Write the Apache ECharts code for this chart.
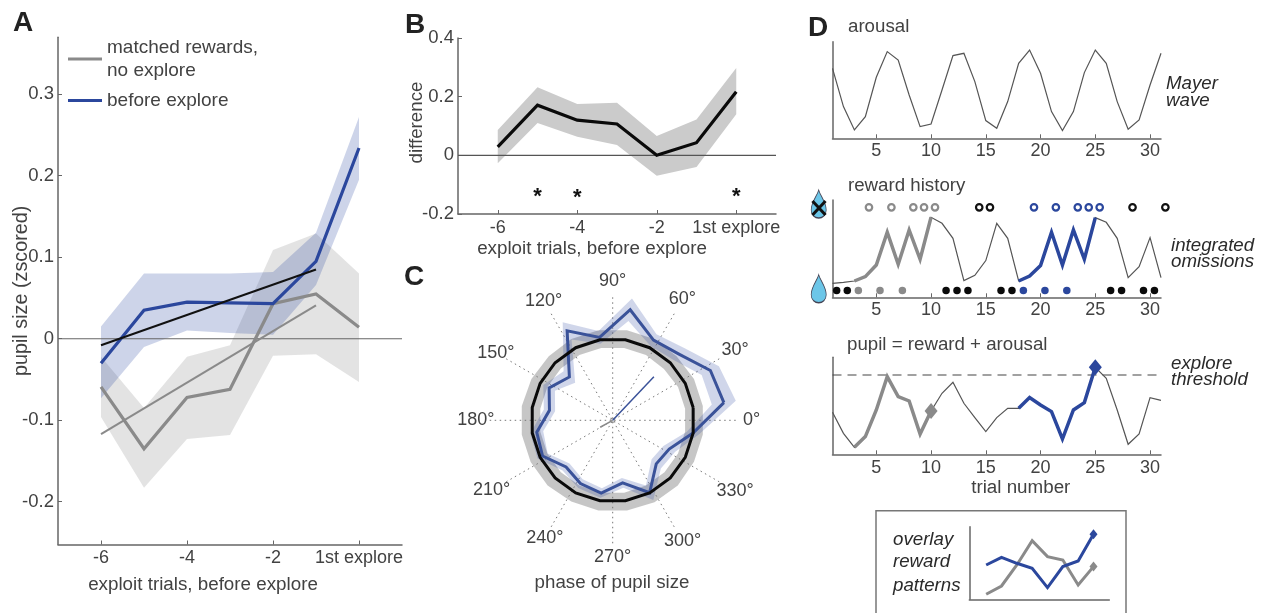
<!DOCTYPE html>
<html><head><meta charset="utf-8">
<style>html,body{margin:0;padding:0;background:#fff}#c{width:1261px;height:613px}</style>
<script src="https://cdn.jsdelivr.net/npm/echarts@6/dist/echarts.min.js"></script>
</head><body><div id="c"></div>
<script>
// ---------- Panel A ----------
const aX = [-6,-5,-4,-3,-2,-1,0];
const aTickValues = [-6,-4,-2,0];
const aTickLabels = ['-6','-4','-2','1st explore'];
const aYTicks = [-0.2,-0.1,0,0.1,0.2,0.3];
const aBlue = [-0.03,0.035,0.045,0.044,0.043,0.095,0.234];
const aBlueHi = [0.015,0.08,0.08,0.08,0.082,0.13,0.272];
const aBlueLo = [-0.073,-0.01,0.01,0.007,0.005,0.066,0.195];
const aGray = [-0.059,-0.135,-0.072,-0.062,0.043,0.055,0.014];
const aGrayHi = [-0.022,-0.085,-0.022,-0.008,0.109,0.129,0.08];
const aGrayLo = [-0.096,-0.183,-0.123,-0.118,-0.021,-0.019,-0.053];
const aFitBlack = [[-6,-0.008],[-1,0.085]];
const aFitGray = [[-6,-0.117],[-1,0.041]];
// ---------- Panel B ----------
const bDiff = [0.029,0.171,0.12,0.107,0,0.043,0.217];
const bHi = [0.086,0.232,0.175,0.179,0.066,0.122,0.298];
const bLo = [-0.027,0.11,0.063,0.035,-0.07,-0.04,0.14];
const bYTicks = [-0.2,0,0.2,0.4];
const bStars = [[-5,-0.135],[-4,-0.14],[0,-0.135]];
// ---------- Panel C ----------
const cAngles = [9,27,45,63,81,99,117,135,153,171,189,207,225,243,261,279,297,315,333,351];
const cBlue = [.0691,.0673,.0575,.0552,.0687,.0515,.0616,.0376,.0438,.0393,.0472,.0483,.0405,.0436,.0452,.0389,.0499,.0378,.0389,.0499];
const cBlueHi = [.0765,.0732,.0625,.0592,.0757,.0555,.0676,.0426,.0478,.0428,.0512,.0518,.0435,.0466,.0482,.0419,.0549,.0418,.0429,.0539];
const cBlueLo = [.0616,.0613,.0525,.0512,.0617,.0475,.0556,.0326,.0398,.0358,.0432,.0448,.0375,.0406,.0422,.0359,.0449,.0338,.0349,.0459];
const cUniform = [.05,.05,.05,.05,.05,.05,.05,.05,.05,.05,.05,.05,.05,.05,.05,.05,.05,.05,.05,.05];
const cUniHi = [.056,.056,.0555,.056,.056,.056,.056,.0555,.056,.0565,.0565,.0565,.0565,.056,.056,.056,.0565,.0565,.056,.056];
const cUniLo = [.045,.045,.0445,.045,.045,.045,.045,.045,.045,.045,.045,.045,.045,.045,.045,.045,.045,.045,.045,.045];
const cVecBlue = [[0,0],[.0368,46.6]];
const cVecGray = [[0,0],[.0088,209]];
const cTickAngles = [0,30,60,90,120,150,180,210,240,270,300,330];
const cTickRadius = [.0853,.0868,.0856,.0853,.0847,.0828,.084,.0859,.0834,.084,.0859,.0868];
// ---------- Panel D ----------
const dTrials = [1,2,3,4,5,6,7,8,9,10,11,12,13,14,15,16,17,18,19,20,21,22,23,24,25,26,27,28,29,30,31];
const dTicks = [5,10,15,20,25,30];
const dArousal = [70,31.7,8.3,21.7,61,86.7,78.3,43.3,11.7,14.3,48.3,82.7,85,56.7,17.7,10,36.7,75,88.3,65,26.7,7.7,26.7,65.7,88.3,75,36.7,9,18.3,53.3,85];
const dReward = [14,15,16.3,20.7,32.3,65,33,67.3,38,80,74,59,16.7,22,36.7,74,59,16.3,21.3,31.7,65,32.3,67.3,38,79.7,75,59,19.7,30.7,59.7,19.7];
const dPupil = [42,21,7,17.7,44.3,77.7,57.7,53.3,20.3,43.3,61,72,51,36.7,22.7,36.7,46,46,56.7,49.3,42.7,15.3,44.3,51.7,87,76,44.3,10,20.3,56.7,54];
const dThreshold = 79.3;
const omitRow = 90, rewardRow = 6.7;
const omitGrayX = [4.33,6.38,8.38,9.36,10.36];
const omitBlackX = [14.4,15.38,28.4,31.4];
const omitBlueX = [19.4,21.4,23.4,24.4,25.4];
const rewardBlackX = [1.38,2.35,11.37,12.37,13.37,16.39,17.39,26.4,27.4,29.4,30.4];
const rewardGrayX = [3.36,5.34,7.38];
const rewardBlueX = [18.43,20.4,22.4];
const grayFrom = 3, grayTo = 10, blueFrom = 18, blueTo = 25;
const dropIcons = [[-0.26,93.3],[-0.26,8.6]];
// ---------- Inset ----------
const inX = [0,1,2,3,4,5,6,7];
const inGray = [5,13.3,34.3,58.7,42.7,39.3,14.3,32.7];
const inBlue = [34.3,42,36,31,11.7,32.7,38.3,65];

const FONT = '"Liberation Sans", Arial, sans-serif';
const TXT = '#424242', AX = '#666', GRAY = '#8a8a8a', BLUE = '#2b479d', THIN = '#555';
const zip = (a,b) => a.map((v,i)=>[v,b[i]]);
const axisLine = {lineStyle:{color:AX,width:1.5}};
const tickIn = {show:true,inside:true,length:4,lineStyle:{color:AX,width:1}};

function xAx(gridIndex,min,max,values,labels,margin,extra){
  return Object.assign({type:'value',gridIndex,min,max,splitLine:{show:false},axisLine:Object.assign({onZero:false},axisLine),
    nameMoveOverlap:false,
    axisTick:Object.assign({},tickIn,{customValues:values}),
    axisLabel:{customValues:values,margin,color:TXT,fontFamily:FONT,fontSize:18,showMinLabel:true,showMaxLabel:true,hideOverlap:false,
      formatter:v=>labels?labels[values.indexOf(v)]:String(v)}},extra||{});
}
function yAx(gridIndex,min,max,values,extra){
  return Object.assign({type:'value',gridIndex,min,max,splitLine:{show:false},axisLine:Object.assign({onZero:false},axisLine),
    nameMoveOverlap:false,
    axisTick:values?Object.assign({},tickIn,{customValues:values}):{show:false},
    axisLabel:values?{customValues:values,margin:4,color:TXT,fontFamily:FONT,fontSize:18.5,formatter:v=>String(v),hideOverlap:false}:{show:false}},extra||{});
}
function line(name,data,idx,color,width,extra){
  return Object.assign({type:'line',name,data,xAxisIndex:idx,yAxisIndex:idx,showSymbol:false,symbol:'none',silent:true,
    itemStyle:{color},lineStyle:{color,width,join:'miter'}},extra||{});
}
function band(name,xs,lo,hi,idx,fill){
  return {type:'custom',name,xAxisIndex:idx,yAxisIndex:idx,silent:true,clip:false,
    data:xs.map((x,i)=>[x,lo[i],hi[i]]),encode:{x:0,y:[1,2]},
    renderItem(p,api){
      if(p.dataIndex!==0) return null;
      const pts=[];
      xs.forEach((x,i)=>pts.push(api.coord([x,hi[i]])));
      for(let i=xs.length-1;i>=0;i--) pts.push(api.coord([xs[i],lo[i]]));
      return {type:'polygon',shape:{points:pts},style:{fill}};
    }};
}
function ring(name,angles,lo,hi,fill){
  return {type:'custom',name,coordinateSystem:'polar',polarIndex:0,silent:true,clip:false,
    data:angles.map((a,i)=>[hi[i],a]),
    renderItem(p,api){
      if(p.dataIndex!==0) return null;
      const pts=[];
      for(let i=0;i<=angles.length;i++){const k=i%angles.length;pts.push(api.coord([hi[k],angles[k]]));}
      for(let i=angles.length;i>=0;i--){const k=i%angles.length;pts.push(api.coord([lo[k],angles[k]]));}
      return {type:'polygon',shape:{points:pts},style:{fill}};
    }};
}
const closed = (r,a) => r.map((v,i)=>[v,a[i]]).concat([[r[0],a[0]]]);
function polarLine(name,data,color,width){
  return {type:'line',name,coordinateSystem:'polar',polarIndex:0,data,symbol:'none',showSymbol:false,silent:true,clip:false,
    itemStyle:{color},lineStyle:{color,width,join:'miter'}};
}
function dots(name,xs,y,idx,color,open){
  return {type:'scatter',name,xAxisIndex:idx,yAxisIndex:idx,clip:false,silent:true,symbol:'circle',symbolSize:open?6.5:7.5,
    data:xs.map(x=>[x,y]),itemStyle:open?{color:'#fff',borderColor:color,borderWidth:2.2,opacity:1}:{color,opacity:1}};
}
function diamond(name,pt,idx,color,size){
  return {type:'scatter',name,xAxisIndex:idx,yAxisIndex:idx,clip:false,silent:true,symbol:'diamond',symbolSize:size,z:5,data:[pt],itemStyle:{color,opacity:1}};
}
const seg = (vals,a,b) => dTrials.map((t,i)=>[t,vals[i]]).slice(a-1,b);
function txt(text,x,y,o){
  return {type:'text',silent:true,x,y,style:Object.assign({text,fontFamily:FONT,fontSize:18.7,fill:TXT,align:'left',verticalAlign:'middle'},o||{})};
}
const letter = (s,x,y)=>txt(s,x,y,{fontSize:28,fontWeight:'bold',fill:'#222',align:'center'});
const it = {fontStyle:'italic',fill:'#2a2a2a'};
const DROP='path://M0,-14 C-1.5,-8 -7.5,-2 -7.5,6 C-7.5,11 -4,14 0,14 C4,14 7.5,11 7.5,6 C7.5,-2 1.5,-8 0,-14 Z';
const nameStyle = (padding)=>({color:TXT,fontFamily:FONT,fontSize:18.8,padding});

const option = {
  animation:false,backgroundColor:'#fff',
  textStyle:{fontFamily:FONT},
  grid:[
    {left:58,top:37.2,width:344,height:507.3,outerBoundsMode:'none'},
    {left:458,top:38,width:318,height:176,outerBoundsMode:'none'},
    {left:832.5,top:41.7,width:328.5,height:96.6,outerBoundsMode:'none'},
    {left:832.5,top:200,width:328.5,height:97.3,outerBoundsMode:'none'},
    {left:832.5,top:357.3,width:328.5,height:97,outerBoundsMode:'none'},
    {left:969.3,top:526.7,width:140,height:72.6,outerBoundsMode:'none'}
  ],
  xAxis:[
    xAx(0,-7,1,aTickValues,aTickLabels,5,{name:'exploit trials, before explore',nameLocation:'middle',nameGap:30.5,nameTextStyle:nameStyle([0,54,0,0])}),
    xAx(1,-7,1,aTickValues,aTickLabels,5,{name:'exploit trials, before explore',nameLocation:'middle',nameGap:25,nameTextStyle:nameStyle([0,50,0,0])}),
    xAx(2,1,31,dTicks,null,3.5),
    xAx(3,1,31,dTicks,null,3.5),
    xAx(4,1,31,dTicks,null,5,{name:'trial number',nameLocation:'middle',nameGap:24,nameTextStyle:nameStyle([0,0,0,48])}),
    {type:'value',gridIndex:5,min:-1.1,max:8.03,axisLine:Object.assign({onZero:false},axisLine),axisTick:{show:false},axisLabel:{show:false},splitLine:{show:false}}
  ],
  yAxis:[
    yAx(0,-0.2525,0.37,aYTicks,{name:'pupil size (zscored)',nameLocation:'middle',nameGap:26,nameTextStyle:Object.assign(nameStyle([0,0,0,0]),{fontSize:19.8})}),
    yAx(1,-0.2,0.4,bYTicks,{name:'difference',nameLocation:'middle',nameGap:32,nameTextStyle:nameStyle([0,0,0,7])}),
    yAx(2,0,96.6,null),
    yAx(3,0,97.3,null),
    yAx(4,0,97,null),
    yAx(5,0,72.6,null)
  ],
  polar:{center:[612.7,420.3],radius:123},
  radiusAxis:{min:0,max:0.0755,axisLine:{show:false},axisTick:{show:false},axisLabel:{show:false},splitLine:{show:false}},
  angleAxis:{type:'value',min:0,max:360,interval:30,startAngle:0,clockwise:false,axisLine:{show:false},axisTick:{show:false},
    splitLine:{show:true,lineStyle:{type:[1.5,3.5],color:'#777',width:1}},
    axisLabel:{show:false}},
  legend:{left:63,top:31,orient:'vertical',itemWidth:34,itemHeight:3,itemGap:7,selectedMode:false,
    textStyle:{color:TXT,fontFamily:FONT,fontSize:19,lineHeight:23},
    data:[{name:'matched rewards,\nno explore',icon:'rect'},{name:'before explore',icon:'rect'}]},
  series:[
    band('grayBandA',aX,aGrayLo,aGrayHi,0,'rgba(100,100,100,0.18)'),
    band('blueBandA',aX,aBlueLo,aBlueHi,0,'rgba(40,70,160,0.23)'),
    line('zeroA',[[-7,0],[1,0]],0,'#666',1.2),
    line('matched rewards,\nno explore',zip(aX,aGray),0,GRAY,3.2),
    line('before explore',zip(aX,aBlue),0,BLUE,3.2),
    line('fitBlack',aFitBlack,0,'#111',2),
    line('fitGray',aFitGray,0,GRAY,2),

    band('bandB',aX,bLo,bHi,1,'#cbcbcb'),
    line('zeroB',[[-7,0],[1,0]],1,'#555',1.2),
    line('difference',zip(aX,bDiff),1,'#0a0a0a',3.2),
    {type:'scatter',name:'stars',xAxisIndex:1,yAxisIndex:1,data:bStars,symbol:'circle',symbolSize:1,silent:true,itemStyle:{color:'rgba(0,0,0,0)',opacity:1},
      label:{show:true,formatter:'*',position:'inside',color:'#111',opacity:1,fontFamily:FONT,fontSize:22,fontWeight:'bold',offset:[0,2]}},

    ring('ringUniform',cAngles,cUniLo,cUniHi,'rgba(120,120,120,0.42)'),
    ring('ringBlue',cAngles,cBlueLo,cBlueHi,'rgba(40,70,160,0.22)'),
    polarLine('pupilPhase',closed(cBlue,cAngles),'#3a5299',3),
    polarLine('uniform',closed(cUniform,cAngles),'#0a0a0a',3),
    polarLine('vecGray',cVecGray,GRAY,1.5),
    polarLine('vecBlue',cVecBlue,'#3a5299',1.5),
    {type:'scatter',name:'angleTicks',coordinateSystem:'polar',polarIndex:0,clip:false,silent:true,symbol:'circle',symbolSize:1,
      data:cTickAngles.map((a,i)=>[cTickRadius[i],a]),itemStyle:{color:'rgba(0,0,0,0)',opacity:1},
      label:{show:true,position:'inside',color:TXT,opacity:1,fontFamily:FONT,fontSize:18,formatter:p=>p.value[1]+'°'}},

    line('arousal',zip(dTrials,dArousal),2,THIN,1.2),

    line('reward',zip(dTrials,dReward),3,THIN,1.2),
    line('rewardGray',seg(dReward,grayFrom,grayTo),3,GRAY,3.5),
    line('rewardBlue',seg(dReward,blueFrom,blueTo),3,BLUE,3.5),
    dots('omitGray',omitGrayX,omitRow,3,GRAY,true),
    dots('omitBlack',omitBlackX,omitRow,3,'#111',true),
    dots('omitBlue',omitBlueX,omitRow,3,BLUE,true),
    dots('rewardBlack',rewardBlackX,rewardRow,3,'#0a0a0a',false),
    dots('rewardGrayDots',rewardGrayX,rewardRow,3,GRAY,false),
    dots('rewardBlueDots',rewardBlueX,rewardRow,3,BLUE,false),
    {type:'scatter',name:'drops',xAxisIndex:3,yAxisIndex:3,clip:false,silent:true,symbol:DROP,symbolSize:[15,28],data:dropIcons,
      itemStyle:{color:'#6cc6e8',borderColor:'#445',borderWidth:1,opacity:1}},

    line('threshold',[[1,dThreshold],[31,dThreshold]],4,'#444',1.2,{lineStyle:{color:'#444',width:1.2,type:[9,6]}}),
    line('pupil',zip(dTrials,dPupil),4,THIN,1.2),
    line('pupilGray',seg(dPupil,grayFrom,grayTo),4,GRAY,3.5),
    line('pupilBlue',seg(dPupil,blueFrom,blueTo),4,BLUE,3.5),
    diamond('diamondGray',[grayTo,dPupil[grayTo-1]],4,GRAY,[13,16]),
    diamond('diamondBlue',[blueTo,dPupil[blueTo-1]],4,BLUE,[13,16]),

    line('inGray',zip(inX,inGray),5,GRAY,3),
    line('inBlue',zip(inX,inBlue),5,BLUE,3),
    diamond('inDiamondGray',[inX[7],inGray[7]],5,GRAY,[8,10]),
    diamond('inDiamondBlue',[inX[7],inBlue[7]],5,BLUE,[8,10])
  ],
  graphic:{elements:[
    letter('A',23,23),letter('B',415,25),letter('C',414,277),letter('D',818,28),
    txt('phase of pupil size',612,583,{align:'center'}),
    txt('arousal',848,27),
    txt('reward history',848,186),
    txt('pupil = reward + arousal',847,345),
    txt('Mayer',1166,84,it),txt('wave',1166,101,it),
    txt('integrated',1171,246,it),txt('omissions',1171,262,it),
    txt('explore',1171,364,it),txt('threshold',1171,380,it),
    txt('overlay',893,540,it),txt('reward',893,562,it),txt('patterns',893,586,it),
    {type:'rect',silent:true,shape:{x:876,y:510.7,width:250,height:120},style:{fill:'none',stroke:'#777',lineWidth:1.5}},
    {type:'line',silent:true,z:20,shape:{x1:812.5,y1:201,x2:825.5,y2:215},style:{stroke:'#111',lineWidth:3}},
    {type:'line',silent:true,z:20,shape:{x1:825.5,y1:201,x2:812.5,y2:215},style:{stroke:'#111',lineWidth:3}}
  ]}
};
const chart = echarts.init(document.getElementById('c'),null,{renderer:'canvas',width:1261,height:613});
chart.setOption(option);
</script></body></html>
